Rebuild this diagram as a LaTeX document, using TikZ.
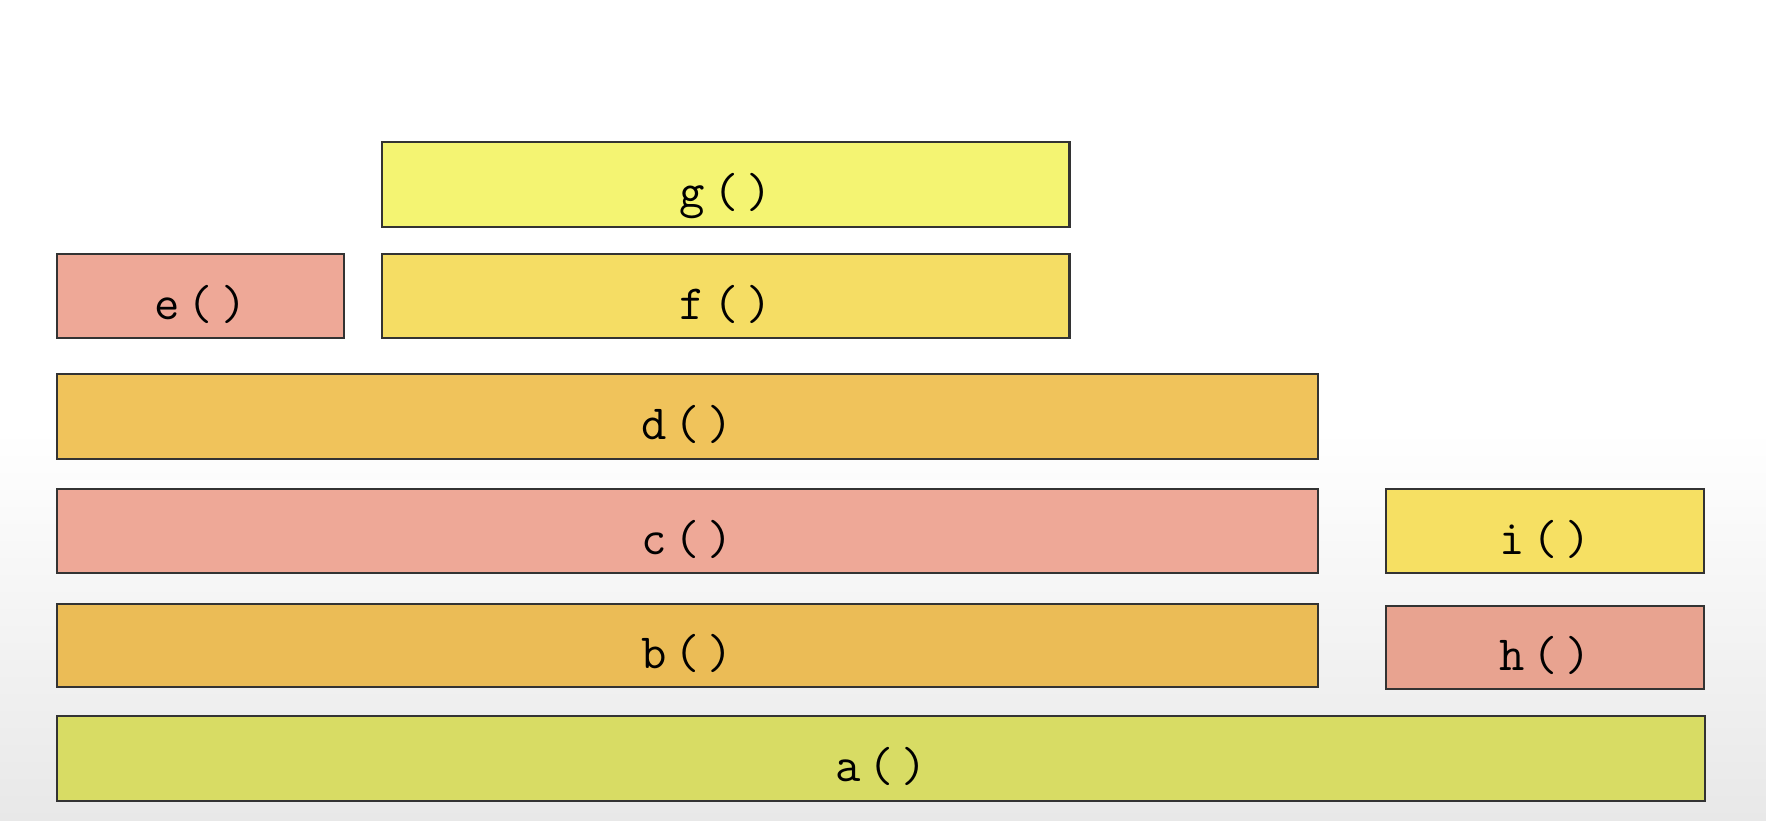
\documentclass[tikz,border=0pt]{standalone}
\usepackage{fontspec}
\definecolor{fna}{RGB}{216,220,100}
\definecolor{fnb}{RGB}{235,188,86}
\definecolor{fnc}{RGB}{238,168,151}
\definecolor{fnd}{RGB}{240,195,91}
\definecolor{fnf}{RGB}{245,221,100}
\definecolor{fng}{RGB}{244,244,114}
\definecolor{fnh}{RGB}{232,163,144}
\definecolor{fni}{RGB}{246,224,99}
\newcommand{\fncall}[1]{#1\kern2.2pt(\kern2.2pt)}
\begin{document}
\begin{tikzpicture}[x=0.01cm,y=-0.01cm,
    frame/.style={draw=black!80,line width=0.6pt,anchor=north west,inner sep=0pt,
      font=\ttfamily\fontsize{14}{17}\selectfont,
      text height=0.46cm,text depth=0cm}]
    \useasboundingbox (0,0) rectangle (1766,820);
    \fill[white] (0,0) rectangle (1766,820);
    \shade[top color=white,bottom color=gray!18] (0,430) rectangle (1766,820);
    \node[frame,fill=fna,minimum width=16.47cm,minimum height=0.85cm] (a) at (56,715) {\fncall{a}};
    \node[frame,fill=fnb,minimum width=12.60cm,minimum height=0.83cm] (b) at (56,603) {\fncall{b}};
    \node[frame,fill=fnc,minimum width=12.60cm,minimum height=0.84cm] (c) at (56,488) {\fncall{c}};
    \node[frame,fill=fnd,minimum width=12.60cm,minimum height=0.85cm] (d) at (56,373) {\fncall{d}};
    \node[frame,fill=fnc,minimum width=2.87cm,minimum height=0.84cm] (e) at (56,253) {\fncall{e}};
    \node[frame,fill=fnf,minimum width=6.87cm,minimum height=0.84cm] (f) at (381,253) {\fncall{f}};
    \node[frame,fill=fng,minimum width=6.87cm,minimum height=0.85cm] (g) at (381,141) {\fncall{g}};
    \node[frame,fill=fnh,minimum width=3.18cm,minimum height=0.83cm] (h) at (1385,605) {\fncall{h}};
    \node[frame,fill=fni,minimum width=3.18cm,minimum height=0.84cm] (i) at (1385,488) {\fncall{i}};
  \end{tikzpicture}
\end{document}
